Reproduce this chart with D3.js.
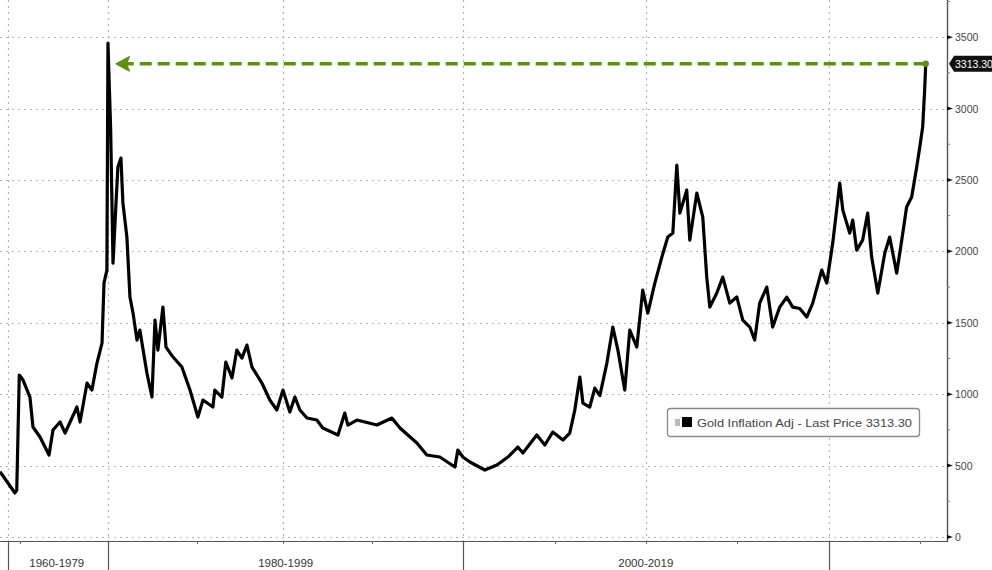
<!DOCTYPE html>
<html>
<head>
<meta charset="utf-8">
<script src="https://cdn.jsdelivr.net/npm/d3@7"></script>
<style>
  html, body { margin: 0; padding: 0; background: #fff; }
  svg { display: block; }
  text { font-family: "Liberation Sans", Arial, sans-serif; }
</style>
</head>
<body>
<svg id="chart" width="992" height="570"></svg>
<script>
// ---- data (decimal year, inflation-adjusted gold price) ----
const years = [1974.00,1974.83,1974.93,1975.07,1975.28,1975.66,1975.83,1976.22,1976.72,1976.94,
1977.33,1977.61,1978.27,1978.44,1978.83,1979.10,1979.38,1979.66,1979.77,1979.93,
1979.99,1980.14,1980.27,1980.38,1980.54,1980.71,1980.82,1981.04,1981.21,1981.38,
1981.60,1981.76,1982.15,1982.43,1982.60,1982.76,1983.04,1983.21,1983.60,1984.09,
1984.54,1984.98,1985.26,1985.81,1985.92,1986.31,1986.53,1986.87,1987.14,1987.42,
1987.70,1987.98,1988.53,1988.97,1989.36,1989.70,1990.08,1990.36,1990.64,1991.03,
1991.58,1991.91,1992.75,1993.13,1993.30,1993.80,1994.91,1995.74,1996.19,1997.13,
1997.68,1998.40,1999.24,1999.40,1999.68,2000.07,2000.90,2001.57,2002.18,2002.73,
2003.01,2003.78,2004.23,2004.67,2005.23,2005.61,2005.89,2006.17,2006.34,2006.72,
2007.00,2007.28,2007.67,2008.00,2008.28,2008.66,2008.94,2009.33,2009.66,2009.94,
2010.33,2010.72,2011.05,2011.33,2011.55,2011.72,2012.10,2012.27,2012.66,2012.99,
2013.21,2013.38,2013.77,2014.10,2014.49,2014.88,2015.21,2015.60,2015.87,2016.15,
2016.54,2016.87,2017.26,2017.65,2017.98,2018.37,2018.76,2019.09,2019.59,2019.87,
2020.20,2020.59,2020.76,2021.14,2021.31,2021.53,2021.86,2022.14,2022.36,2022.70,
2023.09,2023.36,2023.75,2024.03,2024.30,2024.58,2024.86,2025.03,2025.19,2025.30,
2025.36];
const goldAdj = [457,308,329,1134,1099,980,770,700,574,749,
805,728,910,805,1078,1029,1218,1358,1778,1869,
3458,2849,1918,2198,2590,2653,2338,2100,1680,1568,
1379,1449,1148,980,1519,1309,1610,1330,1260,1190,
1029,840,959,910,1029,980,1225,1113,1309,1253,
1344,1190,1078,959,889,1029,875,980,889,833,
819,763,714,868,784,819,784,833,763,658,
574,560,490,609,560,525,469,504,560,630,
588,714,644,735,679,728,889,1120,938,910,
1043,990,1218,1470,1309,1029,1449,1330,1729,1568,
1778,1960,2100,2128,2604,2268,2429,2079,2408,2240,
1820,1610,1708,1820,1638,1680,1519,1470,1379,1638,
1750,1470,1610,1680,1610,1600,1540,1638,1869,1778,
2058,2478,2289,2128,2219,2009,2079,2268,1960,1708,
1988,2100,1848,2079,2310,2380,2590,2730,2870,3129,
3313.3];

const yTicks = [0, 500, 1000, 1500, 2000, 2500, 3000, 3500];
const yMinorTicks = [250, 750, 1250, 1750, 2250, 2750, 3250, 3750];
const periodBounds = [1974.45, 1980, 1999.7, 2020];
const periodLabels = ["1960-1979", "1980-1999", "2000-2019"];
const periodLabelYears = [1977.15, 1989.85, 2009.83];
const xGridYears = [1974.45, 1980, 1989.7, 1999.7, 2009.83, 2020];
const xMinorYears = [1975.1, 1984.93, 1989.7, 1994.63, 2004.78, 2009.83, 2014.88, 2025.03];
const lastPrice = 3313.3;
const arrowTipYear = 1980.45;
const legendText = "Gold Inflation Adj - Last Price 3313.30";

// ---- layout ----
const W = 992, H = 570;
const plotLeft = 0, plotRight = 947, plotTop = 0, plotBottom = 541;
const svg = d3.select("#chart");

const x = d3.scaleLinear().domain([1974.0, 2026.54]).range([plotLeft, plotRight]);
const y = d3.scaleLinear().domain([0, 3760]).range([537, plotTop]);

const gridColor = "#b4b4b4";

// horizontal gridlines
svg.append("g").selectAll("line").data(yTicks).join("line")
  .attr("x1", plotLeft).attr("x2", plotRight)
  .attr("y1", d => Math.round(y(d)) + 0.5).attr("y2", d => Math.round(y(d)) + 0.5)
  .attr("stroke", gridColor).attr("stroke-width", 1.2)
  .attr("stroke-dasharray", "2,4");

// vertical gridlines
svg.append("g").selectAll("line").data(xGridYears).join("line")
  .attr("x1", d => Math.round(x(d)) + 0.5).attr("x2", d => Math.round(x(d)) + 0.5)
  .attr("y1", plotTop).attr("y2", plotBottom)
  .attr("stroke", gridColor).attr("stroke-width", 1.2)
  .attr("stroke-dasharray", "2,4");

// x axis
const xAxisG = svg.append("g");
xAxisG.append("line").attr("x1", plotLeft).attr("x2", plotRight)
  .attr("y1", plotBottom + 0.5).attr("y2", plotBottom + 0.5)
  .attr("stroke", "#555").attr("stroke-width", 1.2);
xAxisG.selectAll(".minor").data(xMinorYears).join("line")
  .attr("x1", d => Math.round(x(d)) + 0.5).attr("x2", d => Math.round(x(d)) + 0.5)
  .attr("y1", plotBottom).attr("y2", plotBottom + 3)
  .attr("stroke", "#666").attr("stroke-width", 1);
xAxisG.selectAll(".sep").data(periodBounds).join("line")
  .attr("x1", d => Math.round(x(d)) + 0.5).attr("x2", d => Math.round(x(d)) + 0.5)
  .attr("y1", plotBottom).attr("y2", H)
  .attr("stroke", "#555").attr("stroke-width", 1.2);
xAxisG.selectAll("text").data(periodLabels).join("text")
  .attr("x", (d, i) => x(periodLabelYears[i]))
  .attr("y", 567)
  .attr("text-anchor", "middle")
  .attr("font-size", 11.5)
  .attr("fill", "#333")
  .text(d => d);

// y axis (right)
const yAxisG = svg.append("g");
yAxisG.append("line").attr("x1", plotRight + 0.5).attr("x2", plotRight + 0.5)
  .attr("y1", 0).attr("y2", plotBottom + 1)
  .attr("stroke", "#555").attr("stroke-width", 1.4);
yAxisG.selectAll(".tk").data(yTicks).join("path")
  .attr("d", d => {
    const yy = y(d);
    return `M${plotRight},${yy - 2} L${plotRight + 6},${yy} L${plotRight},${yy + 2} Z`;
  })
  .attr("fill", "#111");
yAxisG.selectAll(".mn").data(yMinorTicks).join("line")
  .attr("x1", plotRight).attr("x2", plotRight + 3)
  .attr("y1", d => y(d)).attr("y2", d => y(d))
  .attr("stroke", "#777").attr("stroke-width", 1);
yAxisG.selectAll("text").data(yTicks).join("text")
  .attr("x", plotRight + 8)
  .attr("y", d => y(d) + 4)
  .attr("font-size", 10.5)
  .attr("fill", "#444")
  .text(d => d);

// line
const pts = years.map((yr, i) => [yr, goldAdj[i]]);
const line = d3.line().x(d => x(d[0])).y(d => y(d[1])).curve(d3.curveLinear);
svg.append("path").datum(pts)
  .attr("d", line)
  .attr("fill", "none")
  .attr("stroke", "#000")
  .attr("stroke-width", 3.2)
  .attr("stroke-linejoin", "round");

// green dashed arrow
const green = "#5f8f14";
const lastYear = years[years.length - 1];
const ay = y(lastPrice);
const tipX = x(arrowTipYear);
svg.append("line")
  .attr("x1", x(lastYear)).attr("x2", tipX + 10)
  .attr("y1", ay).attr("y2", ay)
  .attr("stroke", green).attr("stroke-width", 3.5)
  .attr("stroke-dasharray", "12,6");
svg.append("path")
  .attr("d", `M${tipX},${ay} L${tipX + 13},${ay - 7} L${tipX + 10},${ay} L${tipX + 13},${ay + 7} Z`)
  .attr("fill", green).attr("stroke", green).attr("stroke-width", 1.5)
  .attr("stroke-linejoin", "round");
svg.append("circle")
  .attr("cx", x(lastYear)).attr("cy", ay).attr("r", 3.2)
  .attr("fill", green);

// last price tag
const tagX = plotRight + 2;
svg.append("path")
  .attr("d", `M${tagX},${ay} L${tagX + 5},${ay - 8} L${W + 5},${ay - 8} L${W + 5},${ay + 8} L${tagX + 5},${ay + 8} Z`)
  .attr("fill", "#111");
svg.append("text")
  .attr("x", tagX + 6).attr("y", ay + 4)
  .attr("font-size", 10.5)
  .attr("fill", "#fff")
  .text(lastPrice.toFixed(2));

// legend
const lg = svg.append("g").attr("transform", "translate(667,408)");
lg.append("rect").attr("x", 0.5).attr("y", 0.5).attr("width", 252).attr("height", 28)
  .attr("rx", 3).attr("fill", "#fff").attr("stroke", "#888").attr("stroke-width", 1.3);
lg.append("rect").attr("x", 8).attr("y", 11).attr("width", 5).attr("height", 7).attr("fill", "#bbb");
lg.append("rect").attr("x", 15).attr("y", 9).attr("width", 10).attr("height", 10).attr("fill", "#000");
lg.append("text").attr("x", 30).attr("y", 18.5)
  .attr("font-size", 11).attr("fill", "#444")
  .attr("textLength", 215).attr("lengthAdjust", "spacingAndGlyphs")
  .text(legendText);
</script>
</body>
</html>
